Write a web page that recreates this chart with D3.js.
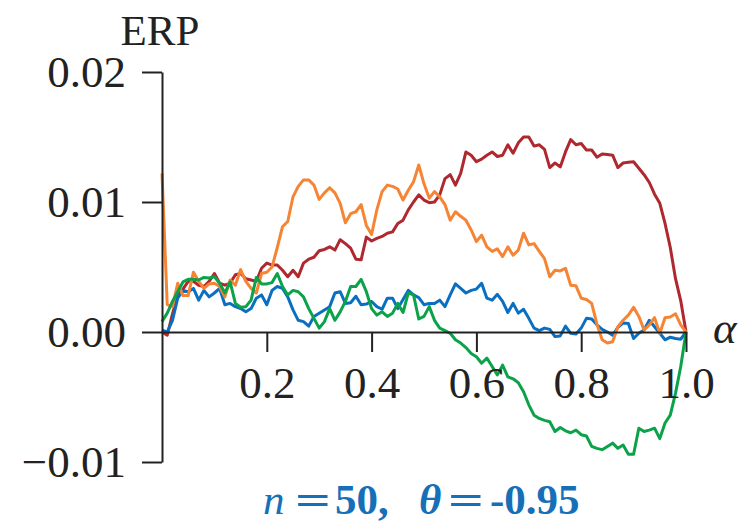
<!DOCTYPE html>
<html>
<head>
<meta charset="utf-8">
<script src="https://cdn.jsdelivr.net/npm/d3@7"></script>
<style>
  body { margin: 0; background: #fff; }
  svg text { font-family: "Liberation Serif", "DejaVu Serif", serif; fill: #222; }
</style>
</head>
<body>
<svg width="744" height="524"></svg>
<script>
// alpha grid, 0 .. 1 in steps of 0.01
var alpha = d3.range(0, 101).map(function (i) { return i / 100; });

// ERP values, in units of 1e-3
var erpRed = [0, -0.25, 1.4, 2.8, 3.3, 3.9, 3.9, 3.6, 3.5, 3.9,
  4.5, 3.75, 3.6, 3.75, 4.4, 4.5, 4.1, 4.0, 3.9, 4.9,
  5.3, 5.15, 5.15, 4.75, 4.25, 4.75, 4.25, 5.3, 5.6, 5.75,
  6.25, 6.35, 6.55, 6.3, 7.1, 6.8, 6.45, 5.6, 5.55, 7.3,
  7.0, 7.2, 7.35, 7.6, 7.7, 8.35, 8.6, 9.4, 10.0, 10.55,
  10.15, 9.95, 10.0, 10.55, 11.8, 12.1, 11.3, 12.2, 13.85, 13.6,
  13.1, 13.3, 13.6, 13.85, 13.5, 13.6, 14.4, 13.75, 14.55, 15.0,
  15.0, 14.3, 14.4, 14.05, 12.65, 13.0, 12.7, 13.85, 14.8, 14.4,
  14.5, 14.0, 14.0, 13.45, 13.7, 13.65, 13.6, 12.65, 13.0, 13.05,
  13.1, 12.6, 12.1, 11.5, 10.6, 9.9, 8.35, 6.5, 4.1, 2.4,
  0];

var erpOrange = [12.2, 2.1, 1.95, 3.75, 2.8, 2.8, 4.6, 3.9, 3.35, 3.7,
  3.75, 3.5, 2.7, 4.0, 3.6, 4.8, 3.9, 3.35, 3.0, 4.5,
  4.6, 5.0, 6.5, 8.1, 8.5, 10.4, 11.2, 11.7, 11.7, 11.3,
  10.2, 10.7, 11.1, 10.7, 9.9, 8.4, 9.1, 9.25, 9.8, 8.2,
  7.5, 9.4, 10.8, 11.3, 11.2, 11.0, 10.15, 10.9, 11.55, 12.85,
  11.4, 10.3, 10.8, 10.4, 9.8, 8.6, 9.25, 8.9, 8.6, 7.85,
  6.95, 7.45, 6.55, 6.2, 6.4, 5.8, 6.55, 5.9, 6.3, 7.6,
  6.7, 6.8, 6.2, 5.65, 4.25, 4.75, 4.7, 4.9, 3.6, 3.55,
  2.6, 2.5, 2.2, 0.6, -0.6, -0.85, -0.75, 0.4, 0.9, 1.3,
  1.9, 1.2, 0.15, 0.55, 1.1, -0.1, 1.1, 1.15, 1.4, 0.55,
  0];

var erpBlue = [0.15, 0, 0.9, 2.6, 3.2, 3.1, 3.35, 2.45, 3.2, 2.7,
  3.0, 3.35, 2.1, 2.2, 1.95, 1.8, 1.55, 1.8, 2.6, 2.85,
  2.1, 3.2, 3.5, 3.35, 2.7, 1.7, 0.9, 0.8, 0.45, 1.2,
  1.45, 1.7, 1.95, 3.0, 3.1, 2.2, 2.25, 2.75, 2.1, 2.15,
  2.35, 1.95, 1.75, 2.6, 2.6, 1.8, 2.5, 3.2, 2.85, 2.65,
  2.1, 2.2, 2.2, 2.45, 1.95, 2.85, 3.7, 3.35, 3.0, 3.2,
  3.3, 3.75, 2.6, 2.45, 2.9, 2.35, 1.5, 2.2, 1.45, 1.75,
  1.05, 0.3, 0.1, 0.3, 0.2, -0.35, -0.3, 0.45, -0.1, -0.15,
  0.3, 1.05, 1.0, 0.55, 0.2, 0, -0.25, 0.35, 0.7, 0.65,
  -0.5, -0.1, 0.15, 0.9, 0.4, -0.1, -0.6, -0.4, -0.5, -0.55,
  0];

var erpGreen = [0.8, 1.45, 2.35, 3.1, 3.85, 4.05, 4.05, 4.0, 4.2, 4.15,
  4.25, 3.75, 3.0, 3.85, 2.2, 1.9, 1.95, 2.45, 4.2, 3.7,
  3.7, 3.8, 4.5, 3.5, 2.85, 3.2, 3.1, 2.7, 1.8, 1.05,
  0.3, 0.8, 1.8, 0.9, 1.55, 2.35, 3.5, 3.5, 4.05, 3.1,
  1.8, 1.3, 1.55, 1.2, 1.45, 2.2, 1.5, 3.0, 2.85, 1.0,
  1.2, 1.95, 0.9, 0.3, 0.1, -0.1, -0.6, -0.85, -1.2, -1.65,
  -1.9, -2.4, -2.0, -2.65, -3.3, -2.55, -3.45, -3.6, -3.9, -4.6,
  -5.6, -6.4, -6.65, -6.8, -6.9, -7.65, -7.35, -7.6, -7.75, -7.55,
  -7.9, -8.0, -8.8, -8.95, -9.05, -8.8, -8.55, -8.95, -8.7, -9.4,
  -9.4, -7.4, -7.65, -7.55, -7.4, -8.2, -7.0, -6.4, -4.7, -2.65,
  0];

var yTicks = [-0.01, 0, 0.01, 0.02];
var xTicks = [0.2, 0.4, 0.6, 0.8, 1.0];

var series = [
  { name: "red", values: erpRed, color: "#b0282f" },
  { name: "blue", values: erpBlue, color: "#0a6fc0" },
  { name: "orange", values: erpOrange, color: "#f58534" },
  { name: "green", values: erpGreen, color: "#0ba24a" }
];

var svg = d3.select("svg");

var x = d3.scaleLinear().domain([0, 1]).range([162, 686]);
var y = d3.scaleLinear().domain([-0.01, 0.02]).range([462, 72]);

var line = d3.line()
    .x(function (d, i) { return x(alpha[i]); })
    .y(function (d) { return y(d * 1e-3); });

// lines first, axes drawn on top like the original
svg.selectAll(".erp")
    .data(series)
    .enter().append("path")
    .attr("class", "erp")
    .attr("d", function (s) { return line(s.values); })
    .attr("fill", "none")
    .attr("stroke", function (s) { return s.color; })
    .attr("stroke-width", 3)
    .attr("stroke-linejoin", "round");

var fmtY = function (d) {
  var s = Math.abs(d).toFixed(2);
  return d < 0 ? "\u2212" + s : s;
};

var yAxis = svg.append("g")
    .attr("transform", "translate(" + x(0) + ",0)")
    .call(d3.axisLeft(y).tickValues(yTicks).tickSize(20).tickSizeOuter(0)
      .tickPadding(16).tickFormat(fmtY));

var xAxis = svg.append("g")
    .attr("transform", "translate(0," + y(0) + ")")
    .call(d3.axisBottom(x).tickValues(xTicks).tickSize(20).tickSizeOuter(0)
      .tickPadding(14).tickFormat(d3.format(".1f")));

[yAxis, xAxis].forEach(function (a) {
  a.selectAll("path, line").attr("stroke", "#222").attr("stroke-width", 2);
  a.selectAll("text")
    .attr("font-family", "Liberation Serif, DejaVu Serif, serif")
    .attr("font-size", 45)
    .attr("fill", "#222");
});

svg.append("text")
    .attr("x", 160)
    .attr("y", 45)
    .attr("text-anchor", "middle")
    .attr("font-size", 43)
    .text("ERP");

svg.append("text")
    .attr("x", 713)
    .attr("y", 343)
    .attr("font-size", 45)
    .attr("font-style", "italic")
    .text("\u03b1");

// panel caption, laid out piece by piece to get the wide TeX spacing
var capParts = [
  { t: "n", x: 263, italic: true, bold: false },
  { t: "=", x: 295, w: 36 },
  { t: "50,", x: 335 },
  { t: "\u03b8", x: 419, italic: true },
  { t: "=", x: 448, w: 36 },
  { t: "-0.95", x: 490 }
];

var cap = svg.append("text")
    .attr("y", 514)
    .attr("font-size", 43)
    .attr("font-weight", "bold")
    .style("fill", "#1570b8");

capParts.forEach(function (p) {
  var ts = cap.append("tspan")
      .attr("x", p.x)
      .attr("font-style", p.italic ? "italic" : "normal")
      .attr("font-weight", p.bold === false ? "normal" : "bold")
      .text(p.t);
  if (p.w) ts.attr("textLength", p.w).attr("lengthAdjust", "spacingAndGlyphs");
});
</script>
</body>
</html>
